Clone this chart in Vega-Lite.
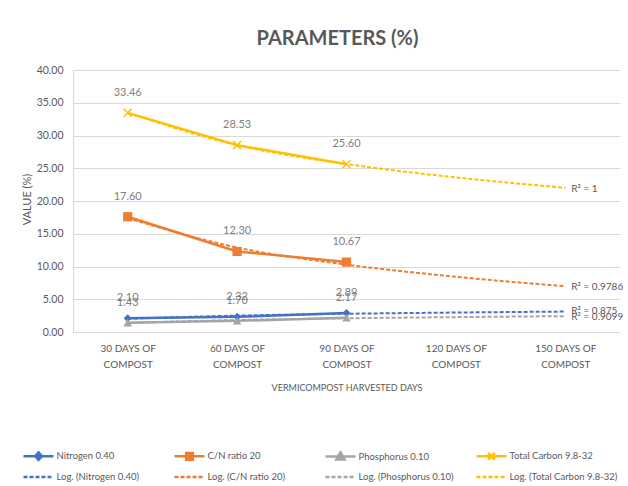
{
  "$schema": "https://vega.github.io/schema/vega-lite/v6.json",
  "width": 547,
  "height": 262,
  "autosize": {"type": "none"},
  "padding": {"left": 73, "top": 70, "right": 8, "bottom": 154},
  "background": "white",
  "config": {
    "font": "Lato",
    "view": {"stroke": null},
    "legend": {
      "orient": "none",
      "legendX": -51,
      "legendY": 377,
      "direction": "horizontal",
      "columns": 4,
      "gridAlign": "all",
      "columnPadding": 4,
      "rowPadding": 3,
      "labelFontSize": 9.5,
      "labelColor": "#595959",
      "labelOffset": 9,
      "symbolOffset": 7.5,
      "symbolSize": 225,
      "symbolStrokeWidth": 2.5,
      "symbolOpacity": 1
    }
  },
  "title": {
    "text": "PARAMETERS (%)",
    "fontSize": 20,
    "fontWeight": "bold",
    "color": "#595959",
    "anchor": "middle",
    "dx": -9,
    "offset": 16,
    "font": "Lato"
  },
  "datasets": {
    "obs": [
      {"day": "30 DAYS OF|COMPOST", "series": "Nitrogen 0.40", "value": 2.10},
      {"day": "60 DAYS OF|COMPOST", "series": "Nitrogen 0.40", "value": 2.32},
      {"day": "90 DAYS OF|COMPOST", "series": "Nitrogen 0.40", "value": 2.89},
      {"day": "30 DAYS OF|COMPOST", "series": "C/N ratio 20", "value": 17.60},
      {"day": "60 DAYS OF|COMPOST", "series": "C/N ratio 20", "value": 12.30},
      {"day": "90 DAYS OF|COMPOST", "series": "C/N ratio 20", "value": 10.67},
      {"day": "30 DAYS OF|COMPOST", "series": "Phosphorus 0.10", "value": 1.43},
      {"day": "60 DAYS OF|COMPOST", "series": "Phosphorus 0.10", "value": 1.70},
      {"day": "90 DAYS OF|COMPOST", "series": "Phosphorus 0.10", "value": 2.17},
      {"day": "30 DAYS OF|COMPOST", "series": "Total Carbon 9.8-32", "value": 33.46},
      {"day": "60 DAYS OF|COMPOST", "series": "Total Carbon 9.8-32", "value": 28.53},
      {"day": "90 DAYS OF|COMPOST", "series": "Total Carbon 9.8-32", "value": 25.60}
    ],
    "trend": [
      {"day": "30 DAYS OF|COMPOST", "series": "Log. (Nitrogen 0.40)", "value": 2.03},
      {"day": "60 DAYS OF|COMPOST", "series": "Log. (Nitrogen 0.40)", "value": 2.50},
      {"day": "90 DAYS OF|COMPOST", "series": "Log. (Nitrogen 0.40)", "value": 2.78},
      {"day": "120 DAYS OF|COMPOST", "series": "Log. (Nitrogen 0.40)", "value": 2.97},
      {"day": "150 DAYS OF|COMPOST", "series": "Log. (Nitrogen 0.40)", "value": 3.12},
      {"day": "30 DAYS OF|COMPOST", "series": "Log. (C/N ratio 20)", "value": 17.38},
      {"day": "60 DAYS OF|COMPOST", "series": "Log. (C/N ratio 20)", "value": 12.90},
      {"day": "90 DAYS OF|COMPOST", "series": "Log. (C/N ratio 20)", "value": 10.29},
      {"day": "120 DAYS OF|COMPOST", "series": "Log. (C/N ratio 20)", "value": 8.43},
      {"day": "150 DAYS OF|COMPOST", "series": "Log. (C/N ratio 20)", "value": 6.99},
      {"day": "30 DAYS OF|COMPOST", "series": "Log. (Phosphorus 0.10)", "value": 1.38},
      {"day": "60 DAYS OF|COMPOST", "series": "Log. (Phosphorus 0.10)", "value": 1.83},
      {"day": "90 DAYS OF|COMPOST", "series": "Log. (Phosphorus 0.10)", "value": 2.09},
      {"day": "120 DAYS OF|COMPOST", "series": "Log. (Phosphorus 0.10)", "value": 2.27},
      {"day": "150 DAYS OF|COMPOST", "series": "Log. (Phosphorus 0.10)", "value": 2.42},
      {"day": "30 DAYS OF|COMPOST", "series": "Log. (Total Carbon 9.8-32)", "value": 33.46},
      {"day": "60 DAYS OF|COMPOST", "series": "Log. (Total Carbon 9.8-32)", "value": 28.53},
      {"day": "90 DAYS OF|COMPOST", "series": "Log. (Total Carbon 9.8-32)", "value": 25.65},
      {"day": "120 DAYS OF|COMPOST", "series": "Log. (Total Carbon 9.8-32)", "value": 23.60},
      {"day": "150 DAYS OF|COMPOST", "series": "Log. (Total Carbon 9.8-32)", "value": 22.02}
    ],
    "r2": [
      {"day": "150 DAYS OF|COMPOST", "label": "R² = 1", "value": 22.02},
      {"day": "150 DAYS OF|COMPOST", "label": "R² = 0.9786", "value": 6.99},
      {"day": "150 DAYS OF|COMPOST", "label": "R² = 0.875", "value": 3.40},
      {"day": "150 DAYS OF|COMPOST", "label": "R² = 0.9099", "value": 2.45}
    ]
  },
  "encoding": {
    "x": {
      "field": "day",
      "type": "nominal",
      "sort": null,
      "scale": {
        "type": "point",
        "padding": 0.5,
        "domain": ["30 DAYS OF|COMPOST", "60 DAYS OF|COMPOST", "90 DAYS OF|COMPOST", "120 DAYS OF|COMPOST", "150 DAYS OF|COMPOST"]
      },
      "axis": {
        "title": "VERMICOMPOST HARVESTED DAYS",
        "titleFontSize": 9,
        "titleFontWeight": "normal",
        "titleColor": "#595959",
        "titleY": 55,
        "titleBaseline": "middle",
        "labelExpr": "split(datum.label, '|')",
        "labelAngle": 0,
        "labelFontSize": 10,
        "labelColor": "#595959",
        "labelPadding": 11,
        "labelLineHeight": 16,
        "labelBaseline": "top",
        "ticks": false,
        "grid": false,
        "domainColor": "#D9D9D9",
        "domainWidth": 1
      }
    },
    "y": {
      "field": "value",
      "type": "quantitative",
      "scale": {"domain": [0, 40], "nice": false, "zero": true},
      "axis": {
        "title": "VALUE (%)",
        "titleFontSize": 11,
        "titleFontWeight": "normal",
        "titleColor": "#595959",
        "titleX": -46,
        "titleY": 129,
        "titleAlign": "center",
        "titleBaseline": "middle",
        "values": [0, 5, 10, 15, 20, 25, 30, 35, 40],
        "format": ".2f",
        "labelFontSize": 10.5,
        "labelColor": "#595959",
        "labelPadding": 10,
        "ticks": false,
        "gridColor": "#D9D9D9",
        "gridWidth": 1,
        "domainColor": "#D9D9D9"
      }
    }
  },
  "layer": [
    {
      "data": {"name": "obs"},
      "transform": [{"filter": "false"}],
      "mark": {"type": "point", "filled": true, "opacity": 1},
      "encoding": {
        "color": {
          "field": "series",
          "type": "nominal",
          "scale": {
            "domain": ["Nitrogen 0.40", "C/N ratio 20", "Phosphorus 0.10", "Total Carbon 9.8-32", "Log. (Nitrogen 0.40)", "Log. (C/N ratio 20)", "Log. (Phosphorus 0.10)", "Log. (Total Carbon 9.8-32)"],
            "range": ["#4472C4", "#ED7D31", "#A5A5A5", "#FFC000", "#4472C4", "#ED7D31", "#A5A5A5", "#FFC000"]
          },
          "legend": {"title": null}
        },
        "stroke": {
          "field": "series",
          "type": "nominal",
          "scale": {
            "domain": ["Nitrogen 0.40", "C/N ratio 20", "Phosphorus 0.10", "Total Carbon 9.8-32", "Log. (Nitrogen 0.40)", "Log. (C/N ratio 20)", "Log. (Phosphorus 0.10)", "Log. (Total Carbon 9.8-32)"],
            "range": ["#4472C4", "#ED7D31", "#A5A5A5", "#FFC000", "#4472C4", "#ED7D31", "#A5A5A5", "#FFC000"]
          },
          "legend": {"title": null}
        },
        "shape": {
          "field": "series",
          "type": "nominal",
          "scale": {
            "domain": ["Nitrogen 0.40", "C/N ratio 20", "Phosphorus 0.10", "Total Carbon 9.8-32", "Log. (Nitrogen 0.40)", "Log. (C/N ratio 20)", "Log. (Phosphorus 0.10)", "Log. (Total Carbon 9.8-32)"],
            "range": [
              "M-2,0H2M0,-0.5L0.45,0L0,0.5L-0.45,0Z",
              "M-2,0H2M-0.45,-0.45H0.45V0.45H-0.45Z",
              "M-2,0H2M0,-0.55L0.55,0.4H-0.55Z",
              "M-2,0H2M-0.45,-0.45L0.45,0.45M-0.45,0.45L0.45,-0.45",
              "M-2,0H2", "M-2,0H2", "M-2,0H2", "M-2,0H2"
            ]
          },
          "legend": {"title": null}
        },
        "strokeDash": {
          "field": "series",
          "type": "nominal",
          "scale": {
            "domain": ["Nitrogen 0.40", "C/N ratio 20", "Phosphorus 0.10", "Total Carbon 9.8-32", "Log. (Nitrogen 0.40)", "Log. (C/N ratio 20)", "Log. (Phosphorus 0.10)", "Log. (Total Carbon 9.8-32)"],
            "range": [[1, 0], [1, 0], [1, 0], [1, 0], [4, 2], [4, 2], [4, 2], [4, 2]]
          },
          "legend": {"title": null}
        }
      }
    },
    {
      "data": {"name": "obs"},
      "mark": {"type": "line", "strokeWidth": 2.5},
      "encoding": {
        "stroke": {"field": "series", "type": "nominal", "legend": {"title": null}}
      }
    },
    {
      "data": {"name": "trend"},
      "mark": {"type": "line", "strokeWidth": 2, "strokeDash": [4, 2], "interpolate": "monotone"},
      "encoding": {
        "stroke": {"field": "series", "type": "nominal", "legend": {"title": null}}
      }
    },
    {
      "data": {"name": "obs"},
      "transform": [{"filter": "datum.series == 'Nitrogen 0.40'"}],
      "mark": {"type": "point", "shape": "diamond", "size": 64, "filled": true, "color": "#4472C4", "opacity": 1},
      "encoding": {}
    },
    {
      "data": {"name": "obs"},
      "transform": [{"filter": "datum.series == 'C/N ratio 20'"}],
      "mark": {"type": "point", "shape": "square", "size": 85, "filled": true, "color": "#ED7D31", "opacity": 1},
      "encoding": {}
    },
    {
      "data": {"name": "obs"},
      "transform": [{"filter": "datum.series == 'Phosphorus 0.10'"}],
      "mark": {"type": "point", "shape": "triangle-up", "size": 75, "filled": true, "color": "#A5A5A5", "opacity": 1},
      "encoding": {}
    },
    {
      "data": {"name": "obs"},
      "transform": [{"filter": "datum.series == 'Total Carbon 9.8-32'"}],
      "mark": {"type": "point", "shape": "M-1,-1L1,1M-1,1L1,-1", "size": 64, "filled": false, "stroke": "#FFC000", "strokeWidth": 1.5, "opacity": 1},
      "encoding": {}
    },
    {
      "data": {"name": "obs"},
      "mark": {"type": "text", "fontSize": 11, "color": "#7F7F7F", "baseline": "middle", "dy": -20},
      "encoding": {
        "text": {"field": "value", "type": "quantitative", "format": ".2f"}
      }
    },
    {
      "data": {"name": "r2"},
      "mark": {"type": "text", "fontSize": 10, "color": "#595959", "align": "left", "baseline": "middle", "dx": 6, "dy": 1},
      "encoding": {
        "text": {"field": "label", "type": "nominal"}
      }
    }
  ]
}
